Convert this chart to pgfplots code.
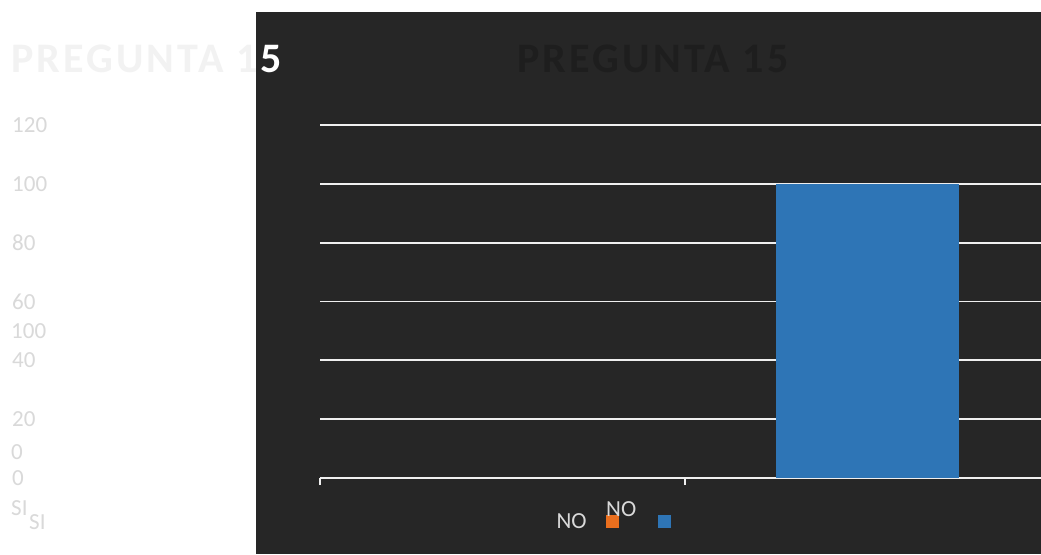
\documentclass[border=0pt]{standalone}
\usepackage{pgfplots}
\pgfplotsset{compat=1.18}
\usepackage{fontspec}
\setmainfont{Carlito}
\newfontfamily\titlefam{Carlito}[LetterSpace=7.5]
\definecolor{bg}{HTML}{262626}
\definecolor{ttl}{HTML}{F2F2F2}
\definecolor{lbl}{HTML}{D9D9D9}
\definecolor{ttldark}{HTML}{1E1E1E}
\definecolor{barblue}{HTML}{2E75B6}
\definecolor{barorange}{HTML}{EA6F1E}
\definecolor{gridc}{HTML}{EFEFEF}
\newcommand\tfont{\titlefam\bfseries\fontsize{42}{48}\selectfont}
\newcommand\lfont{\fontsize{23}{27}\selectfont}
\begin{document}
\begin{tikzpicture}[x=1pt,y=1pt]
\path[use as bounding box] (0,0) rectangle (1041,554);
\clip (0,0) rectangle (1041,554);
\fill[white] (0,0) rectangle (1041,554);
\node[anchor=base west, inner sep=0pt, text=ttl, font=\tfont] at (11,481) {PREGUNTA 15};
\fill[bg] (256,0) rectangle (1041,542);
\begin{scope}
\clip (256,0) rectangle (1041,542);
\node[anchor=base west, inner sep=0pt, text=white, font=\tfont] at (11,481) {PREGUNTA 15};
\end{scope}
\node[anchor=base, inner sep=0pt, text=ttldark, font=\tfont] at (653,481) {PREGUNTA 15};
\begin{axis}[
  at={(320pt,76pt)}, anchor=south west,
  scale only axis, width=730pt, height=353pt,
  xmin=-0.5, xmax=1.5, ymin=0, ymax=120,
  axis x line*=bottom, axis y line*=left,
  x axis line style={gridc, line width=2.5pt},
  y axis line style={draw=none},
  ytick={0,20,...,120},
  ymajorgrids, grid style={gridc, line width=1.8pt},
  ytick style={draw=none},
  /pgf/number format/assume math mode=true,
  yticklabel style={font=\lfont, text=lbl, anchor=west, inner sep=0pt, xshift=-301pt},
  xtick={-0.5,0.5}, xticklabels={},
  xtick style={gridc, line width=2pt},
  tick align=outside, major tick length=7pt,
  ybar, bar width=0.5,
  legend style={at={(0.324,-0.1232)}, anchor=west, draw=none, fill=none,
    inner sep=0pt, outer sep=0pt, column sep=19pt, font=\lfont, text=lbl,
    nodes={inner sep=0pt, text=lbl}},
  legend columns=2, legend plot pos=right,
  legend image code/.code={\fill[#1,draw=none] (0pt,-6.5pt) rectangle (13pt,6.5pt);},
]
\addplot[forget plot, fill=none, draw=none, bar shift=0pt] coordinates {(0,0)};
\addlegendimage{fill=barorange, draw=none}
\addlegendentry{NO}
\addplot[fill=barblue, draw=none, bar shift=0pt] coordinates {(1,100)};
\addlegendentry{}
\end{axis}
\node[anchor=west, inner sep=0pt, text=lbl, font=\lfont] at (11,223) {100};
\node[anchor=west, inner sep=0pt, text=lbl, font=\lfont] at (11,102) {0};
\node[anchor=west, inner sep=0pt, text=lbl, font=\lfont] at (11,46) {SI};
\node[anchor=west, inner sep=0pt, text=lbl, font=\lfont] at (29,32) {SI};
\node[anchor=base west, inner sep=0pt, text=lbl, font=\lfont] at (606,37.3) {NO};
\end{tikzpicture}
\end{document}
